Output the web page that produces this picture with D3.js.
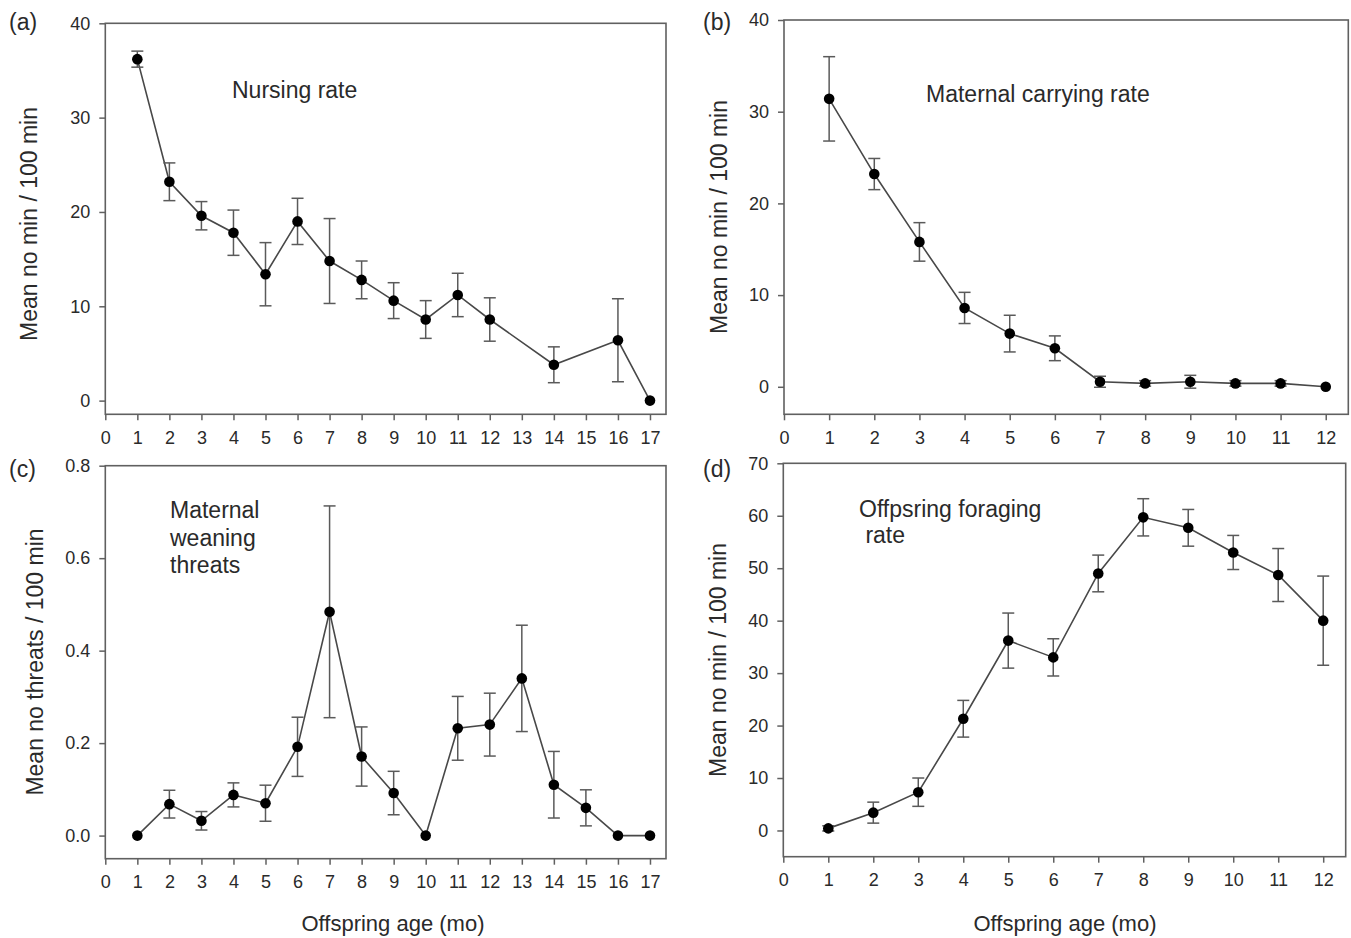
<!DOCTYPE html>
<html>
<head>
<meta charset="utf-8">
<script src="https://cdn.jsdelivr.net/npm/d3@7"></script>
<style>
  html, body { margin: 0; padding: 0; background: #fff; }
  svg { display: block; }
  text { font-family: Arial, "Liberation Sans", Helvetica, sans-serif; }
</style>
</head>
<body>
<svg id="chart" width="1351" height="938"></svg>
<script>
// ---------- Data ----------
const agesA = [1, 2, 3, 4, 5, 6, 7, 8, 9, 10, 11, 12, 14, 16, 17];
const nursingMean = [36.2, 23.2, 19.6, 17.8, 13.4, 19.0, 14.8, 12.8, 10.6, 8.6, 11.2, 8.6, 3.8, 6.4, 0];
const nursingSE   = [0.85, 2.0, 1.5, 2.4, 3.35, 2.45, 4.5, 2.0, 1.9, 2.0, 2.3, 2.3, 1.9, 4.4, 0];

const agesB = [1, 2, 3, 4, 5, 6, 7, 8, 9, 10, 11, 12];
const carryMean = [31.4, 23.2, 15.8, 8.6, 5.8, 4.2, 0.55, 0.37, 0.55, 0.37, 0.37, 0];
const carrySE   = [4.6, 1.7, 2.1, 1.7, 2.0, 1.35, 0.6, 0.3, 0.7, 0.3, 0.3, 0];

const agesC = [1, 2, 3, 4, 5, 6, 7, 8, 9, 10, 11, 12, 13, 14, 15, 16, 17];
const threatMean = [0, 0.068, 0.032, 0.088, 0.07, 0.192, 0.484, 0.171, 0.092, 0, 0.232, 0.24, 0.34, 0.11, 0.06, 0, 0];
const threatSE   = [0, 0.03, 0.02, 0.026, 0.039, 0.064, 0.229, 0.064, 0.047, 0, 0.069, 0.068, 0.115, 0.072, 0.039, 0, 0];

const agesD = [1, 2, 3, 4, 5, 6, 7, 8, 9, 10, 11, 12];
const forageMean = [0.4, 3.4, 7.3, 21.3, 36.2, 33.0, 49.0, 59.7, 57.7, 53.0, 48.7, 40.0];
const forageSE   = [0.5, 2.0, 2.7, 3.5, 5.25, 3.55, 3.5, 3.55, 3.5, 3.25, 5.05, 8.5];

const xTicks17 = d3.range(0, 18);
const xTicks12 = d3.range(0, 13);
const yTicksA = [0, 10, 20, 30, 40];
const yTicksB = [0, 10, 20, 30, 40];
const yTicksC = [0, 0.2, 0.4, 0.6, 0.8];
const yTicksD = [0, 10, 20, 30, 40, 50, 60, 70];

const panels = [
  { tag: "(a)", tagX: 9, tagY: 30, ages: agesA, mean: nursingMean, se: nursingSE,
    left: 105.3, right: 666, top: 23.3, bottom: 414.3, xDom: [0, 17.5], yDom: [-1.45, 40],
    xTicks: xTicks17, yTicks: yTicksA, yFmt: d3.format("d"),
    yTitle: "Mean no min / 100 min", yTitleX: 29, yTitleY: 224,
    labels: [{ t: "Nursing rate", x: 232, y: 98 }] },
  { tag: "(b)", tagX: 703, tagY: 30, ages: agesB, mean: carryMean, se: carrySE,
    left: 784, right: 1348.3, top: 20, bottom: 414.3, xDom: [0, 12.5], yDom: [-3, 40],
    xTicks: xTicks12, yTicks: yTicksB, yFmt: d3.format("d"),
    yTitle: "Mean no min / 100 min", yTitleX: 719, yTitleY: 217,
    labels: [{ t: "Maternal carrying rate", x: 926, y: 102 }] },
  { tag: "(c)", tagX: 9, tagY: 477, ages: agesC, mean: threatMean, se: threatSE,
    left: 105.3, right: 666, top: 465.7, bottom: 858.7, xDom: [0, 17.5], yDom: [-0.05, 0.8],
    xTicks: xTicks17, yTicks: yTicksC, yFmt: d3.format(".1f"),
    yTitle: "Mean no threats / 100 min", yTitleX: 35, yTitleY: 662,
    xTitle: "Offspring age (mo)", xTitleX: 393, xTitleY: 931,
    labels: [{ t: "Maternal", x: 170, y: 518 }, { t: "weaning", x: 170, y: 546 }, { t: "threats", x: 170, y: 573 }] },
  { tag: "(d)", tagX: 703, tagY: 477, ages: agesD, mean: forageMean, se: forageSE,
    left: 783.3, right: 1345.7, top: 463.3, bottom: 856.7, xDom: [0, 12.5], yDom: [-5, 70],
    xTicks: xTicks12, yTicks: yTicksD, yFmt: d3.format("d"),
    yTitle: "Mean no min / 100 min", yTitleX: 718, yTitleY: 660,
    xTitle: "Offspring age (mo)", xTitleX: 1065, xTitleY: 931,
    labels: [{ t: "Offpsring foraging", x: 859, y: 517 }, { t: " rate", x: 859, y: 543 }] }
];

const svg = d3.select("#chart");
const axisColor = "#606060";
const textColor = "#2a2a2a";

panels.forEach(p => {
  const x = d3.scaleLinear().domain(p.xDom).range([p.left, p.right]);
  const y = d3.scaleLinear().domain(p.yDom).range([p.bottom, p.top]);
  const g = svg.append("g");

  // frame
  g.append("rect")
    .attr("x", p.left).attr("y", p.top)
    .attr("width", p.right - p.left).attr("height", p.bottom - p.top)
    .attr("fill", "none").attr("stroke", axisColor).attr("stroke-width", 1.6);

  // axes
  const xa = g.append("g").attr("transform", `translate(0,${p.bottom})`)
    .call(d3.axisBottom(x).tickValues(p.xTicks).tickSize(6).tickPadding(11).tickFormat(d3.format("d")));
  const ya = g.append("g").attr("transform", `translate(${p.left},0)`)
    .call(d3.axisLeft(y).tickValues(p.yTicks).tickSize(6).tickPadding(9).tickFormat(p.yFmt));
  [xa, ya].forEach(a => {
    a.select(".domain").remove();
    a.selectAll(".tick line").attr("stroke", axisColor).attr("stroke-width", 1.5);
    a.selectAll(".tick text").attr("fill", textColor).style("font-size", "18px")
      .style("font-family", 'Arial, "Liberation Sans", sans-serif');
  });

  const pts = p.ages.map((a, i) => ({ a, m: p.mean[i], s: p.se[i] }));

  // connecting line
  g.append("path")
    .datum(pts)
    .attr("fill", "none").attr("stroke", "#484848").attr("stroke-width", 1.6)
    .attr("d", d3.line().x(d => x(d.a)).y(d => y(d.m)));

  // error bars
  const eb = g.append("g").attr("stroke", "#5a5a5a").attr("stroke-width", 1.5).attr("fill", "none");
  const withErr = pts.filter(d => d.s > 0);
  eb.selectAll("line.v").data(withErr).join("line").attr("class", "v")
    .attr("x1", d => x(d.a)).attr("x2", d => x(d.a))
    .attr("y1", d => y(d.m + d.s)).attr("y2", d => y(d.m - d.s));
  eb.selectAll("line.t").data(withErr).join("line").attr("class", "t")
    .attr("x1", d => x(d.a) - 6).attr("x2", d => x(d.a) + 6)
    .attr("y1", d => y(d.m + d.s)).attr("y2", d => y(d.m + d.s));
  eb.selectAll("line.b").data(withErr).join("line").attr("class", "b")
    .attr("x1", d => x(d.a) - 6).attr("x2", d => x(d.a) + 6)
    .attr("y1", d => y(d.m - d.s)).attr("y2", d => y(d.m - d.s));

  // markers
  g.selectAll("circle").data(pts).join("circle")
    .attr("cx", d => x(d.a)).attr("cy", d => y(d.m)).attr("r", 5.3)
    .attr("fill", "#000");

  // panel tag
  g.append("text").attr("x", p.tagX).attr("y", p.tagY)
    .attr("fill", textColor).style("font-size", "23px").text(p.tag);

  // in-plot labels
  p.labels.forEach(l => {
    g.append("text").attr("x", l.x).attr("y", l.y).attr("fill", textColor)
      .attr("xml:space", "preserve").style("white-space", "pre")
      .style("font-size", "23px").text(l.t);
  });

  // y title
  g.append("text")
    .attr("transform", `translate(${p.yTitleX},${p.yTitleY}) rotate(-90)`)
    .attr("text-anchor", "middle").attr("dy", "0.35em")
    .attr("fill", textColor).style("font-size", "23px").text(p.yTitle);

  // x title
  if (p.xTitle) {
    g.append("text").attr("x", p.xTitleX).attr("y", p.xTitleY)
      .attr("text-anchor", "middle").attr("fill", textColor)
      .style("font-size", "22px").text(p.xTitle);
  }
});
</script>
</body>
</html>
